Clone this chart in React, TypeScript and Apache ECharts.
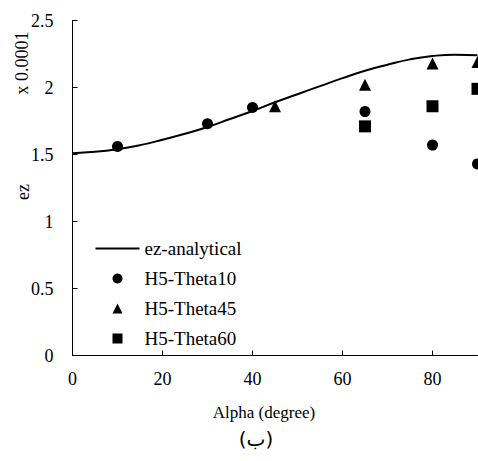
import React, { useEffect, useRef } from "react";
import * as echarts from "echarts";

const analyticAlpha = [0, 5, 10, 15, 20, 25, 30, 35, 40, 45, 50, 55, 60, 65, 70, 75, 80, 85, 90];
const analyticEz = [1.51, 1.52, 1.54, 1.57, 1.61, 1.655, 1.705, 1.765, 1.825, 1.89, 1.95, 2.01, 2.07, 2.125, 2.17, 2.21, 2.235, 2.245, 2.24];

const theta10Alpha = [10, 30, 40, 65, 80, 90];
const theta10Ez = [1.56, 1.73, 1.85, 1.82, 1.57, 1.43];

const theta45Alpha = [45, 65, 80, 90];
const theta45Ez = [1.86, 2.02, 2.18, 2.19];

const theta60Alpha = [65, 80, 90];
const theta60Ez = [1.71, 1.86, 1.99];

const xTicks = [0, 20, 40, 60, 80];

const FONT = "'Liberation Serif', 'Times New Roman', serif";

const zip = (xs: number[], ys: number[]) => xs.map((x, i) => [x, ys[i]]);

export default function App() {
  const ref = useRef<HTMLDivElement>(null);
  useEffect(() => {
    if (!ref.current) return;
    const chart = echarts.init(ref.current, null, { renderer: "svg" });
    chart.setOption({
      animation: false,
      backgroundColor: "#fff",
      textStyle: { fontFamily: FONT, color: "#000" },
      grid: { left: 72.5, top: 20.5, width: 405, height: 335 },
      xAxis: {
        type: "value",
        min: 0,
        max: 90,
        interval: 20,
        axisLine: { lineStyle: { color: "#000", width: 1 } },
        axisTick: { inside: true, length: 5, lineStyle: { color: "#000" }, customValues: xTicks },
        axisLabel: { color: "#000", fontSize: 18, fontFamily: FONT, margin: 14, customValues: xTicks },
        splitLine: { show: false },
      },
      yAxis: {
        type: "value",
        min: 0,
        max: 2.5,
        interval: 0.5,
        axisLine: { show: true, lineStyle: { color: "#000", width: 1 } },
        axisTick: { show: true, inside: true, length: 5, lineStyle: { color: "#000" } },
        axisLabel: { color: "#000", fontSize: 18, fontFamily: FONT, margin: 19 },
        splitLine: { show: false },
      },
      legend: {
        orient: "vertical",
        left: 90.5,
        top: 234,
        itemWidth: 44,
        itemHeight: 10,
        itemGap: 11,
        symbolKeepAspect: true,
        textStyle: { fontSize: 19, fontFamily: FONT, color: "#000" },
        data: [
          { name: "ez-analytical", icon: "path://M0,0L44,0L44,2L0,2Z", itemStyle: { color: "#000", opacity: 1 } },
          { name: "H5-Theta10", icon: "circle" },
          { name: "H5-Theta45", icon: "path://M5,0L10,10L0,10Z" },
          { name: "H5-Theta60", icon: "path://M0,0L10,0L10,10L0,10Z" },
        ],
      },
      series: [
        {
          name: "ez-analytical",
          type: "line",
          smooth: true,
          symbol: "none",
          data: zip(analyticAlpha, analyticEz),
          lineStyle: { color: "#000", width: 2 },
          itemStyle: { color: "#000" },
          clip: false,
        },
        {
          name: "H5-Theta10",
          type: "scatter",
          symbol: "circle",
          symbolSize: 11,
          data: zip(theta10Alpha, theta10Ez),
          itemStyle: { color: "#000", opacity: 1 },
          clip: false,
        },
        {
          name: "H5-Theta45",
          type: "scatter",
          symbol: "triangle",
          symbolSize: 12,
          data: zip(theta45Alpha, theta45Ez),
          itemStyle: { color: "#000", opacity: 1 },
          clip: false,
        },
        {
          name: "H5-Theta60",
          type: "scatter",
          symbol: "rect",
          symbolSize: 12,
          data: zip(theta60Alpha, theta60Ez),
          itemStyle: { color: "#000", opacity: 1 },
          clip: false,
        },
      ],
      graphic: [
        {
          type: "text",
          x: 22,
          y: 63,
          rotation: Math.PI / 2,
          style: { text: "x 0.0001", fontSize: 18, fontFamily: FONT, fill: "#000", align: "center", verticalAlign: "middle" },
        },
        {
          type: "text",
          x: 23,
          y: 192,
          rotation: Math.PI / 2,
          style: { text: "ez", fontSize: 18, fontFamily: FONT, fill: "#000", align: "center", verticalAlign: "middle" },
        },
        {
          type: "text",
          x: 264,
          y: 412,
          style: { text: "Alpha (degree)", fontSize: 17, fontFamily: FONT, fill: "#000", align: "center", verticalAlign: "middle" },
        },
        {
          type: "text",
          x: 256,
          y: 439,
          style: { text: "(ب)", fontSize: 20, fontFamily: "'DejaVu Sans', 'Noto Sans', sans-serif", fill: "#000", align: "center", verticalAlign: "middle" },
        },
      ],
    });
    return () => chart.dispose();
  }, []);
  return (
    <div
      ref={ref}
      style={{ position: "fixed", left: 0, top: 0, width: 478, height: 461 }}
    />
  );
}
